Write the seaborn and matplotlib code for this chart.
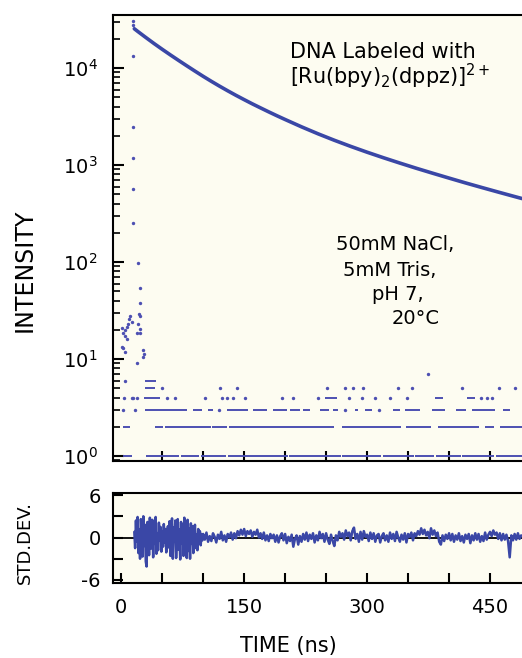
import numpy as np
import pandas as pd
import matplotlib
matplotlib.use("Agg")
import matplotlib.pyplot as plt
import seaborn as sns
from matplotlib.ticker import LogLocator, NullFormatter

# ---- data ----
# main decay (time in ns, counts)
decay_t = [16, 20, 30, 40, 50, 60, 70, 80, 90, 100, 110, 120, 130, 140, 150,
           160, 170, 180, 190, 200, 220, 240, 260, 280, 300, 320, 340, 360,
           380, 400, 420, 440, 460, 480, 489]
decay_i = [25400, 23900, 20650, 17900, 15600, 13650, 11980, 10540, 9290, 8210,
           7290, 6500, 5820, 5230, 4720, 4270, 3880, 3530, 3220, 2945, 2475,
           2100, 1800, 1556, 1355, 1188, 1047, 926, 823, 733, 654, 586, 526,
           473, 451]

# rising edge points
rise_t = [13.8, 14.0, 14.2, 14.4, 14.6, 14.8, 15.0]
rise_i = [254, 566, 1180, 2460, 13300, 27700, 30500]

# scattered early points before/around the pulse
early_t = [20.7, 22.8, 23.5, 21.6, 23.5, 10.6, 9.4, 12.6, 8.5, 6.5, 19.9, 22.8,
           18.7, 23.5, 1.2, 4.5, 2.4, 5.2, 6.5, 0.4, 2.4, 4.5, 26.8, 28.0,
           27.2, 18.7]
early_i = [98, 54, 38, 29, 28, 28, 25.7, 24, 23, 21.5, 23, 20.4, 18.4, 18.4,
           20.7, 19.9, 18.4, 17.3, 16, 13.4, 12.9, 11.9, 12.4, 11.2, 10.6, 9.2]

# background counts: dense runs (start, end) per count level
runs_1 = [(2.5, 12.6), (30, 71), (73, 95), (97, 128), (130, 203), (205, 268),
          (270, 317), (319, 357), (359, 382), (384, 414), (416, 455), (457, 489)]
runs_2 = [(2.4, 10.6), (41, 51), (53, 109), (111, 129), (131, 260), (269, 341),
          (348, 378), (387, 437), (444, 455), (462, 489)]
runs_3 = [(28.9, 80), (88, 98), (106, 112), (129, 155), (161, 178), (185, 202),
          (206, 218), (222, 230), (243, 253), (259, 265), (285, 289), (298, 306),
          (332, 340), (346, 365), (379, 395), (409, 421), (428, 456), (466, 474)]
runs_4 = [(28, 47), (249, 263), (383, 393), (421.5, 431.7)]
runs_5 = [(28.9, 41)]
runs_6 = [(29, 43)]

# background counts: isolated points per level
dots_3 = [2.4, 16.7, 119, 273, 314]
dots_4 = [3.7, 12.6, 15, 18.7, 55.3, 65.9, 102.4, 122.8, 128.9, 137, 151.2,
          195.9, 210.2, 240.6, 278, 294, 309.8, 328.1, 348.4, 439, 445.9, 452]
dots_5 = [49.2, 120.8, 141, 250.8, 273.2, 283.3, 295.6, 338.2, 355, 415.5,
          461, 480]
dots_6 = [4.5]
dots_7 = [374.5]

# weighted residuals: 1 ns channels from 16 ns, then 2 ns channels from 100 ns
resid_early_t0, resid_early_step = 16, 1
resid_early = [0.8, -1.5, 2.4, -0.6, 2.9, -2.2, 1.1, -3.0, 2.6, 0.4, -2.7, 3.0,
               -1.2, 1.8, -3.4, -4.1, 2.2, 0.9, -2.5, 2.8, -1.6, 0.3, 2.5, -2.8,
               1.7, -0.9, 2.9, -2.3, 0.6, -1.8, 2.1, -0.4, 1.5, -2.0, 0.9, -1.3,
               1.9, -0.7, 1.2, -2.1, 0.5, 1.6, -1.4, 2.3, -2.6, 0.8, 2.7, -3.0,
               1.4, -0.5, 2.4, -2.9, 0.2, 2.6, -1.7, 1.1, -3.1, 2.2, -0.8, 1.9,
               -2.6, 2.8, -1.0, 0.6, -2.9, 2.5, -1.9, 1.3, -3.0, 2.0, -0.9, 1.6,
               -2.2, 0.7, 1.8, -1.5, 0.4, -1.8, 1.2, -0.6, 0.9, -1.1, 0.5, -0.4]
resid_late_t0, resid_late_step = 100, 2
resid_late = [0.5, -0.3, 0.7, -0.6, 0.2, -0.5, 0.6, 0.1, -0.7, 0.4,
              -0.2, 0.8, -0.4, 0.3, -0.6, 0.5, 0.0, 0.7, -0.3, 0.6,
              -0.1, 0.9, 0.3, 1.1, 0.4, 1.2, 0.2, 0.9, 0.5, 1.0,
              0.1, 0.8, 0.4, 1.1, 0.0, 0.6, -0.2, 0.7, -0.4, 0.3,
              -0.5, 0.5, -0.1, 0.4, -0.6, 0.3, -0.7, 0.2, 0.6, -0.4,
              0.5, -0.8, 0.1, -0.5, 0.4, -1.3, -0.2, 0.3, -1.0, 0.2,
              -0.6, 0.5, -0.3, 0.7, -0.5, 0.4, -0.2, 0.6, -0.7, 0.3,
              -0.4, 0.8, -0.1, 0.5, -0.6, 0.6, -0.3, -0.9, 0.4, -0.5,
              -1.2, 0.3, -0.4, 0.8, 0.1, 0.6, -0.3, 1.0, 0.2, 0.7,
              -0.4, 0.9, 1.4, -0.2, 0.5, -0.6, 0.8, -0.3, 0.9, 0.1,
              0.4, -0.5, 0.7, -0.2, 0.6, -0.6, 0.3, 0.5, -0.7, 0.2,
              0.6, -0.4, 0.3, -0.6, 0.7, -0.2, 0.5, -0.5, 0.8, 0.0,
              -0.6, 0.4, -0.3, 0.6, -0.7, 0.5, 0.1, 0.7, -0.4, 0.6,
              0.2, 0.9, 0.4, 1.3, 0.5, 1.1, 0.3, 0.8, -0.1, 1.3,
              0.4, 1.0, 0.2, 0.7, -0.6, -1.0, 0.3, -0.5, 0.4, -0.2,
              0.6, -0.4, 0.5, -0.6, 0.3, -0.3, 0.6, -0.5, 0.2, -0.7,
              0.4, -0.2, 0.5, -0.8, 0.3, -0.4, 0.6, -0.3, 0.5, -0.6,
              0.2, -0.5, 0.7, -0.3, 0.4, 0.8, 0.2, 1.0, 0.4, 0.7,
              -0.2, 0.6, -0.4, 0.5, -0.3, 0.4, -0.5, -2.8, 0.3, -0.4,
              0.5, -0.3, 0.6, -0.2, 0.3]

x_ticks = [0, 50, 100, 150, 200, 250, 300, 350, 400, 450]
x_labels = ["0", "", "", "150", "", "", "300", "", "", "450"]
res_ticks = [-6, -3, 0, 3, 6]
res_labels = ["-6", "", "0", "", "6"]

# ---- style ----
sns.set_style("ticks")
plt.rcParams["font.family"] = ["DejaVu Sans"]
plt.rcParams["mathtext.default"] = "regular"
for key in ("text.color", "axes.labelcolor", "xtick.color", "ytick.color"):
    plt.rcParams[key] = "black"
blue = "#3a47a6"
dot_blue = "#4d50b2"
cream = "#fdfcf1"

W, H = 522, 658
fig = plt.figure(figsize=(W / 100, H / 100), dpi=100)
fig.patch.set_facecolor("white")


def px_box(x0, y0, x1, y1):
    return [x0 / W, 1 - y1 / H, (x1 - x0) / W, (y1 - y0) / H]


ax = fig.add_axes(px_box(113, 15, 522, 461))
ax2 = fig.add_axes(px_box(113, 493, 522, 583))
for a in (ax, ax2):
    a.set_facecolor(cream)
    a.spines["right"].set_visible(False)
    for s in ("left", "bottom", "top"):
        a.spines[s].set_linewidth(1.5)
        a.spines[s].set_color("black")

# ---- intensity panel ----
levels = [(1, runs_1), (2, runs_2), (3, runs_3), (4, runs_4), (5, runs_5), (6, runs_6)]
for lvl, runs in levels:
    ax.hlines([lvl] * len(runs), [r[0] for r in runs], [r[1] for r in runs],
              color=dot_blue, lw=1.4)

bg = pd.DataFrame({
    "t": dots_3 + dots_4 + dots_5 + dots_6 + dots_7 + early_t + rise_t,
    "i": [3] * len(dots_3) + [4] * len(dots_4) + [5] * len(dots_5)
         + [6] * len(dots_6) + [7] * len(dots_7) + early_i + rise_i,
})
sns.scatterplot(data=bg, x="t", y="i", ax=ax, color=dot_blue, s=6,
                linewidth=0, legend=False)

sns.lineplot(x=decay_t, y=decay_i, ax=ax, color=blue, lw=2.6)

ax.set_yscale("log")
ax.set_ylim(0.888, 35200)
ax.set_xlim(-10, 489)
ax.yaxis.set_major_locator(LogLocator(base=10, numticks=10))
ax.yaxis.set_minor_locator(LogLocator(base=10, subs=range(2, 10), numticks=20))
ax.yaxis.set_minor_formatter(NullFormatter())
ax.set_xticks(x_ticks[1:])
ax.tick_params(axis="x", which="both", direction="in", length=7, width=1.5,
               labelbottom=False)
ax.tick_params(axis="y", which="major", direction="in", length=8, width=1.5,
               labelsize=14, pad=11)
ax.tick_params(axis="y", which="minor", direction="in", length=5, width=1.2)
ax.set_xlabel("")
ax.set_ylabel("")

# ---- residual panel ----
res_df = pd.DataFrame({
    "t": [resid_early_t0 + resid_early_step * k for k in range(len(resid_early))]
         + [resid_late_t0 + resid_late_step * k for k in range(len(resid_late))],
    "r": resid_early + resid_late,
})
ax2.axhline(0, color="black", lw=1.3, zorder=1)
sns.lineplot(data=res_df, x="t", y="r", ax=ax2, color=blue, lw=1.8, zorder=2)
ax2.set_xlim(-10, 489)
ax2.set_ylim(-6.43, 6.29)
ax2.set_xticks(x_ticks)
ax2.set_xticklabels(x_labels)
ax2.set_yticks(res_ticks)
ax2.set_yticklabels(res_labels)
ax2.tick_params(axis="both", direction="in", length=7, width=1.5, labelsize=14)
ax2.tick_params(axis="x", pad=11)
ax2.tick_params(axis="y", pad=9)
ax2.set_xlabel("")
ax2.set_ylabel("")

# ---- labels and notes ----
def ftext(x, y, s, **kw):
    fig.text(x / W, 1 - y / H, s, **kw)


ftext(25, 270, "INTENSITY", rotation=90, ha="center", va="center", fontsize=17)
ftext(25, 542, "STD.DEV.", rotation=90, ha="center", va="center", fontsize=13)
ftext(288, 646, "TIME (ns)", ha="center", va="center", fontsize=15)
ftext(290, 52, "DNA Labeled with", ha="left", va="center", fontsize=15)
ftext(290, 76, r"[Ru(bpy)$_2$(dppz)]$^{2+}$", ha="left", va="center", fontsize=15)
ftext(336, 245, "50mM NaCl,", ha="left", va="center", fontsize=14)
ftext(343, 270, "5mM Tris,", ha="left", va="center", fontsize=14)
ftext(372, 295, "pH 7,", ha="left", va="center", fontsize=14)
ftext(392, 319, "20°C", ha="left", va="center", fontsize=14)

fig.savefig("out.png", dpi=100, facecolor="white")
